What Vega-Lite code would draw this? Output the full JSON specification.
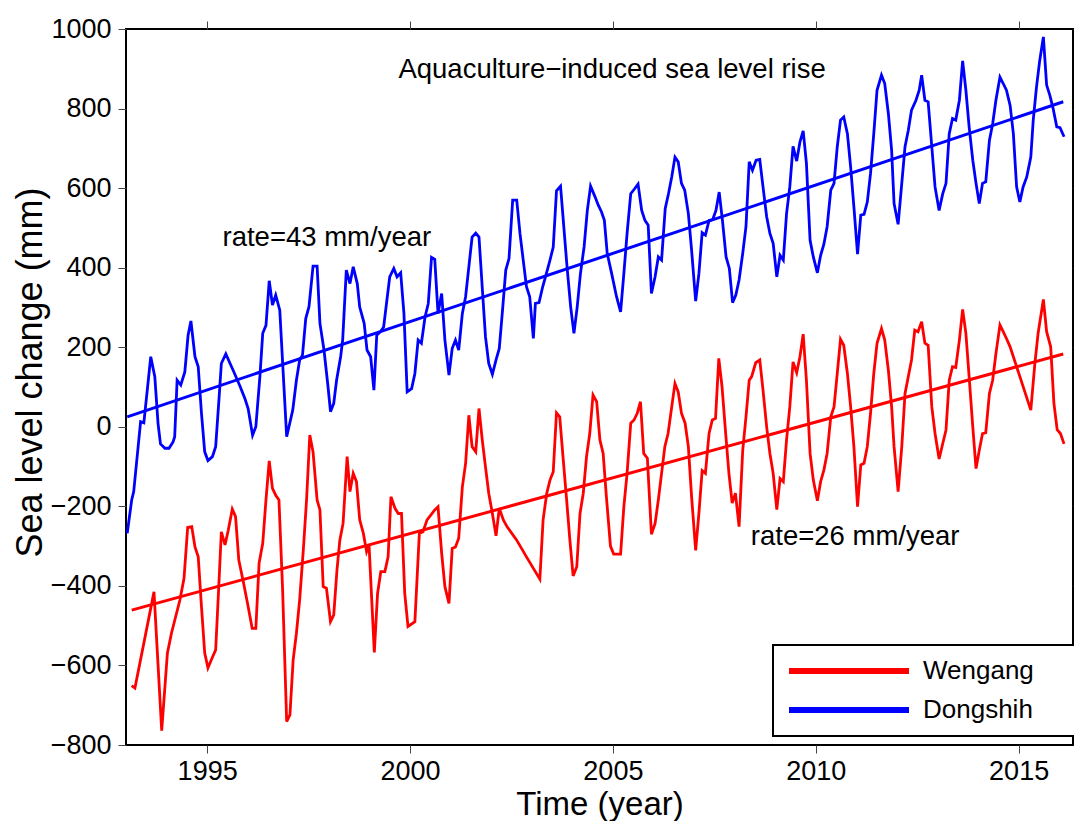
{
  "$schema": "https://vega.github.io/schema/vega-lite/v6.json",
  "width": 947,
  "height": 716,
  "autosize": {"type": "none"},
  "padding": {"left": 126, "top": 29, "right": 1, "bottom": 76},
  "background": "white",
  "config": {
    "font": "Liberation Sans",
    "view": {"stroke": "black", "strokeWidth": 2},
    "axis": {
      "domain": false,
      "grid": false,
      "tickColor": "#444",
      "tickWidth": 1,
      "tickSize": 8,
      "labelFont": "Liberation Sans",
      "labelFontSize": 27,
      "labelColor": "black",
      "titleFont": "Liberation Sans",
      "titleFontSize": 33,
      "titleFontWeight": "normal",
      "titleColor": "black"
    },
    "legend": {
      "labelFont": "Liberation Sans",
      "labelFontSize": 26,
      "labelColor": "black",
      "strokeWidth": 2
    }
  },
  "datasets": {
    "series": [
      {"s":"Wengang","t":1993.14,"v":-651},{"s":"Wengang","t":1993.22,"v":-657},{"s":"Wengang","t":1993.69,"v":-415},{"s":"Wengang","t":1993.88,"v":-764},{"s":"Wengang","t":1994.02,"v":-569},{"s":"Wengang","t":1994.12,"v":-519},{"s":"Wengang","t":1994.33,"v":-435},{"s":"Wengang","t":1994.43,"v":-381},{"s":"Wengang","t":1994.52,"v":-253},{"s":"Wengang","t":1994.62,"v":-251},{"s":"Wengang","t":1994.70,"v":-302},{"s":"Wengang","t":1994.78,"v":-327},{"s":"Wengang","t":1994.86,"v":-452},{"s":"Wengang","t":1994.94,"v":-569},{"s":"Wengang","t":1995.02,"v":-606},{"s":"Wengang","t":1995.12,"v":-582},{"s":"Wengang","t":1995.21,"v":-561},{"s":"Wengang","t":1995.29,"v":-394},{"s":"Wengang","t":1995.35,"v":-264},{"s":"Wengang","t":1995.44,"v":-297},{"s":"Wengang","t":1995.52,"v":-260},{"s":"Wengang","t":1995.62,"v":-207},{"s":"Wengang","t":1995.70,"v":-226},{"s":"Wengang","t":1995.78,"v":-335},{"s":"Wengang","t":1995.90,"v":-394},{"s":"Wengang","t":1996.01,"v":-452},{"s":"Wengang","t":1996.11,"v":-507},{"s":"Wengang","t":1996.20,"v":-507},{"s":"Wengang","t":1996.28,"v":-343},{"s":"Wengang","t":1996.37,"v":-293},{"s":"Wengang","t":1996.45,"v":-184},{"s":"Wengang","t":1996.53,"v":-86},{"s":"Wengang","t":1996.61,"v":-155},{"s":"Wengang","t":1996.69,"v":-172},{"s":"Wengang","t":1996.77,"v":-184},{"s":"Wengang","t":1996.86,"v":-410},{"s":"Wengang","t":1996.96,"v":-741},{"s":"Wengang","t":1997.04,"v":-724},{"s":"Wengang","t":1997.12,"v":-586},{"s":"Wengang","t":1997.20,"v":-519},{"s":"Wengang","t":1997.28,"v":-435},{"s":"Wengang","t":1997.37,"v":-310},{"s":"Wengang","t":1997.45,"v":-184},{"s":"Wengang","t":1997.53,"v":-21},{"s":"Wengang","t":1997.61,"v":-63},{"s":"Wengang","t":1997.71,"v":-184},{"s":"Wengang","t":1997.78,"v":-209},{"s":"Wengang","t":1997.86,"v":-402},{"s":"Wengang","t":1997.94,"v":-406},{"s":"Wengang","t":1998.04,"v":-490},{"s":"Wengang","t":1998.12,"v":-473},{"s":"Wengang","t":1998.20,"v":-360},{"s":"Wengang","t":1998.27,"v":-285},{"s":"Wengang","t":1998.35,"v":-243},{"s":"Wengang","t":1998.45,"v":-75},{"s":"Wengang","t":1998.52,"v":-163},{"s":"Wengang","t":1998.60,"v":-117},{"s":"Wengang","t":1998.68,"v":-138},{"s":"Wengang","t":1998.76,"v":-234},{"s":"Wengang","t":1998.85,"v":-268},{"s":"Wengang","t":1998.93,"v":-314},{"s":"Wengang","t":1998.99,"v":-297},{"s":"Wengang","t":1999.12,"v":-567},{"s":"Wengang","t":1999.20,"v":-419},{"s":"Wengang","t":1999.28,"v":-364},{"s":"Wengang","t":1999.38,"v":-364},{"s":"Wengang","t":1999.46,"v":-327},{"s":"Wengang","t":1999.53,"v":-176},{"s":"Wengang","t":1999.63,"v":-205},{"s":"Wengang","t":1999.71,"v":-218},{"s":"Wengang","t":1999.79,"v":-218},{"s":"Wengang","t":1999.87,"v":-419},{"s":"Wengang","t":1999.95,"v":-502},{"s":"Wengang","t":2000.12,"v":-490},{"s":"Wengang","t":2000.23,"v":-268},{"s":"Wengang","t":2000.32,"v":-264},{"s":"Wengang","t":2000.42,"v":-234},{"s":"Wengang","t":2000.61,"v":-209},{"s":"Wengang","t":2000.69,"v":-201},{"s":"Wengang","t":2000.78,"v":-318},{"s":"Wengang","t":2000.86,"v":-402},{"s":"Wengang","t":2000.96,"v":-444},{"s":"Wengang","t":2001.04,"v":-306},{"s":"Wengang","t":2001.12,"v":-302},{"s":"Wengang","t":2001.20,"v":-280},{"s":"Wengang","t":2001.29,"v":-151},{"s":"Wengang","t":2001.37,"v":-92},{"s":"Wengang","t":2001.45,"v":29},{"s":"Wengang","t":2001.53,"v":-50},{"s":"Wengang","t":2001.62,"v":-63},{"s":"Wengang","t":2001.70,"v":46},{"s":"Wengang","t":2001.78,"v":-33},{"s":"Wengang","t":2001.86,"v":-101},{"s":"Wengang","t":2001.94,"v":-167},{"s":"Wengang","t":2002.03,"v":-218},{"s":"Wengang","t":2002.12,"v":-274},{"s":"Wengang","t":2002.20,"v":-205},{"s":"Wengang","t":2002.30,"v":-234},{"s":"Wengang","t":2002.39,"v":-251},{"s":"Wengang","t":2002.63,"v":-285},{"s":"Wengang","t":2002.87,"v":-327},{"s":"Wengang","t":2003.20,"v":-383},{"s":"Wengang","t":2003.28,"v":-234},{"s":"Wengang","t":2003.37,"v":-167},{"s":"Wengang","t":2003.45,"v":-134},{"s":"Wengang","t":2003.53,"v":-113},{"s":"Wengang","t":2003.61,"v":35},{"s":"Wengang","t":2003.69,"v":25},{"s":"Wengang","t":2003.77,"v":-75},{"s":"Wengang","t":2003.86,"v":-184},{"s":"Wengang","t":2003.94,"v":-285},{"s":"Wengang","t":2004.02,"v":-375},{"s":"Wengang","t":2004.11,"v":-352},{"s":"Wengang","t":2004.19,"v":-218},{"s":"Wengang","t":2004.27,"v":-167},{"s":"Wengang","t":2004.35,"v":-75},{"s":"Wengang","t":2004.43,"v":-17},{"s":"Wengang","t":2004.51,"v":80},{"s":"Wengang","t":2004.60,"v":63},{"s":"Wengang","t":2004.68,"v":-33},{"s":"Wengang","t":2004.76,"v":-67},{"s":"Wengang","t":2004.84,"v":-176},{"s":"Wengang","t":2004.94,"v":-300},{"s":"Wengang","t":2005.02,"v":-320},{"s":"Wengang","t":2005.19,"v":-320},{"s":"Wengang","t":2005.27,"v":-201},{"s":"Wengang","t":2005.35,"v":-117},{"s":"Wengang","t":2005.44,"v":9},{"s":"Wengang","t":2005.52,"v":17},{"s":"Wengang","t":2005.60,"v":34},{"s":"Wengang","t":2005.68,"v":63},{"s":"Wengang","t":2005.76,"v":-67},{"s":"Wengang","t":2005.85,"v":-79},{"s":"Wengang","t":2005.95,"v":-270},{"s":"Wengang","t":2006.04,"v":-243},{"s":"Wengang","t":2006.12,"v":-184},{"s":"Wengang","t":2006.20,"v":-117},{"s":"Wengang","t":2006.28,"v":-50},{"s":"Wengang","t":2006.36,"v":-17},{"s":"Wengang","t":2006.45,"v":50},{"s":"Wengang","t":2006.53,"v":109},{"s":"Wengang","t":2006.61,"v":88},{"s":"Wengang","t":2006.69,"v":34},{"s":"Wengang","t":2006.78,"v":9},{"s":"Wengang","t":2006.86,"v":-50},{"s":"Wengang","t":2006.94,"v":-176},{"s":"Wengang","t":2007.04,"v":-311},{"s":"Wengang","t":2007.12,"v":-218},{"s":"Wengang","t":2007.20,"v":-110},{"s":"Wengang","t":2007.28,"v":-117},{"s":"Wengang","t":2007.37,"v":-17},{"s":"Wengang","t":2007.45,"v":17},{"s":"Wengang","t":2007.53,"v":21},{"s":"Wengang","t":2007.61,"v":172},{"s":"Wengang","t":2007.69,"v":101},{"s":"Wengang","t":2007.78,"v":-17},{"s":"Wengang","t":2007.86,"v":-117},{"s":"Wengang","t":2007.94,"v":-192},{"s":"Wengang","t":2008.02,"v":-167},{"s":"Wengang","t":2008.11,"v":-251},{"s":"Wengang","t":2008.20,"v":-59},{"s":"Wengang","t":2008.28,"v":25},{"s":"Wengang","t":2008.36,"v":117},{"s":"Wengang","t":2008.42,"v":126},{"s":"Wengang","t":2008.52,"v":161},{"s":"Wengang","t":2008.62,"v":168},{"s":"Wengang","t":2008.70,"v":92},{"s":"Wengang","t":2008.79,"v":0},{"s":"Wengang","t":2008.87,"v":-67},{"s":"Wengang","t":2008.95,"v":-117},{"s":"Wengang","t":2009.04,"v":-208},{"s":"Wengang","t":2009.12,"v":-130},{"s":"Wengang","t":2009.20,"v":-138},{"s":"Wengang","t":2009.28,"v":-33},{"s":"Wengang","t":2009.36,"v":50},{"s":"Wengang","t":2009.44,"v":163},{"s":"Wengang","t":2009.53,"v":136},{"s":"Wengang","t":2009.61,"v":176},{"s":"Wengang","t":2009.69,"v":233},{"s":"Wengang","t":2009.77,"v":117},{"s":"Wengang","t":2009.86,"v":-67},{"s":"Wengang","t":2009.94,"v":-134},{"s":"Wengang","t":2010.04,"v":-186},{"s":"Wengang","t":2010.12,"v":-138},{"s":"Wengang","t":2010.20,"v":-109},{"s":"Wengang","t":2010.28,"v":-67},{"s":"Wengang","t":2010.37,"v":25},{"s":"Wengang","t":2010.45,"v":50},{"s":"Wengang","t":2010.53,"v":134},{"s":"Wengang","t":2010.61,"v":220},{"s":"Wengang","t":2010.69,"v":205},{"s":"Wengang","t":2010.78,"v":134},{"s":"Wengang","t":2010.86,"v":50},{"s":"Wengang","t":2010.94,"v":-50},{"s":"Wengang","t":2011.03,"v":-201},{"s":"Wengang","t":2011.11,"v":-96},{"s":"Wengang","t":2011.19,"v":-92},{"s":"Wengang","t":2011.27,"v":-50},{"s":"Wengang","t":2011.35,"v":34},{"s":"Wengang","t":2011.43,"v":134},{"s":"Wengang","t":2011.51,"v":210},{"s":"Wengang","t":2011.62,"v":247},{"s":"Wengang","t":2011.70,"v":218},{"s":"Wengang","t":2011.79,"v":142},{"s":"Wengang","t":2011.87,"v":50},{"s":"Wengang","t":2011.93,"v":-50},{"s":"Wengang","t":2012.03,"v":-163},{"s":"Wengang","t":2012.12,"v":-50},{"s":"Wengang","t":2012.20,"v":84},{"s":"Wengang","t":2012.28,"v":126},{"s":"Wengang","t":2012.36,"v":168},{"s":"Wengang","t":2012.44,"v":243},{"s":"Wengang","t":2012.52,"v":239},{"s":"Wengang","t":2012.61,"v":264},{"s":"Wengang","t":2012.69,"v":210},{"s":"Wengang","t":2012.77,"v":205},{"s":"Wengang","t":2012.86,"v":50},{"s":"Wengang","t":2012.94,"v":-17},{"s":"Wengang","t":2013.04,"v":-81},{"s":"Wengang","t":2013.13,"v":-42},{"s":"Wengang","t":2013.21,"v":-8},{"s":"Wengang","t":2013.29,"v":117},{"s":"Wengang","t":2013.37,"v":151},{"s":"Wengang","t":2013.45,"v":149},{"s":"Wengang","t":2013.54,"v":218},{"s":"Wengang","t":2013.62,"v":295},{"s":"Wengang","t":2013.70,"v":235},{"s":"Wengang","t":2013.78,"v":126},{"s":"Wengang","t":2013.87,"v":0},{"s":"Wengang","t":2013.95,"v":-105},{"s":"Wengang","t":2014.03,"v":-59},{"s":"Wengang","t":2014.11,"v":-17},{"s":"Wengang","t":2014.19,"v":-15},{"s":"Wengang","t":2014.28,"v":84},{"s":"Wengang","t":2014.36,"v":117},{"s":"Wengang","t":2014.44,"v":184},{"s":"Wengang","t":2014.54,"v":256},{"s":"Wengang","t":2014.62,"v":239},{"s":"Wengang","t":2014.70,"v":222},{"s":"Wengang","t":2014.79,"v":201},{"s":"Wengang","t":2014.87,"v":176},{"s":"Wengang","t":2015.30,"v":42},{"s":"Wengang","t":2015.40,"v":159},{"s":"Wengang","t":2015.48,"v":235},{"s":"Wengang","t":2015.61,"v":320},{"s":"Wengang","t":2015.69,"v":239},{"s":"Wengang","t":2015.79,"v":201},{"s":"Wengang","t":2015.87,"v":59},{"s":"Wengang","t":2015.95,"v":-7},{"s":"Wengang","t":2016.03,"v":-17},{"s":"Wengang","t":2016.12,"v":-43},
      {"s":"Dongshih","t":1993.03,"v":-268},{"s":"Dongshih","t":1993.14,"v":-184},{"s":"Dongshih","t":1993.19,"v":-163},{"s":"Dongshih","t":1993.36,"v":13},{"s":"Dongshih","t":1993.44,"v":10},{"s":"Dongshih","t":1993.61,"v":176},{"s":"Dongshih","t":1993.71,"v":126},{"s":"Dongshih","t":1993.79,"v":8},{"s":"Dongshih","t":1993.85,"v":-43},{"s":"Dongshih","t":1993.96,"v":-54},{"s":"Dongshih","t":1994.06,"v":-54},{"s":"Dongshih","t":1994.16,"v":-38},{"s":"Dongshih","t":1994.20,"v":-25},{"s":"Dongshih","t":1994.26,"v":117},{"s":"Dongshih","t":1994.35,"v":105},{"s":"Dongshih","t":1994.45,"v":138},{"s":"Dongshih","t":1994.53,"v":230},{"s":"Dongshih","t":1994.60,"v":266},{"s":"Dongshih","t":1994.70,"v":176},{"s":"Dongshih","t":1994.78,"v":151},{"s":"Dongshih","t":1994.86,"v":34},{"s":"Dongshih","t":1994.94,"v":-63},{"s":"Dongshih","t":1995.02,"v":-85},{"s":"Dongshih","t":1995.13,"v":-75},{"s":"Dongshih","t":1995.21,"v":-50},{"s":"Dongshih","t":1995.29,"v":67},{"s":"Dongshih","t":1995.35,"v":159},{"s":"Dongshih","t":1995.46,"v":183},{"s":"Dongshih","t":1995.64,"v":142},{"s":"Dongshih","t":1995.81,"v":102},{"s":"Dongshih","t":1995.93,"v":71},{"s":"Dongshih","t":1996.01,"v":46},{"s":"Dongshih","t":1996.12,"v":-21},{"s":"Dongshih","t":1996.20,"v":0},{"s":"Dongshih","t":1996.30,"v":126},{"s":"Dongshih","t":1996.37,"v":235},{"s":"Dongshih","t":1996.45,"v":255},{"s":"Dongshih","t":1996.53,"v":367},{"s":"Dongshih","t":1996.61,"v":306},{"s":"Dongshih","t":1996.69,"v":331},{"s":"Dongshih","t":1996.79,"v":293},{"s":"Dongshih","t":1996.96,"v":-25},{"s":"Dongshih","t":1997.11,"v":42},{"s":"Dongshih","t":1997.20,"v":117},{"s":"Dongshih","t":1997.28,"v":168},{"s":"Dongshih","t":1997.35,"v":180},{"s":"Dongshih","t":1997.43,"v":272},{"s":"Dongshih","t":1997.51,"v":302},{"s":"Dongshih","t":1997.61,"v":404},{"s":"Dongshih","t":1997.71,"v":404},{"s":"Dongshih","t":1997.78,"v":260},{"s":"Dongshih","t":1997.88,"v":193},{"s":"Dongshih","t":1997.98,"v":100},{"s":"Dongshih","t":1998.04,"v":38},{"s":"Dongshih","t":1998.12,"v":59},{"s":"Dongshih","t":1998.19,"v":117},{"s":"Dongshih","t":1998.29,"v":176},{"s":"Dongshih","t":1998.34,"v":218},{"s":"Dongshih","t":1998.43,"v":394},{"s":"Dongshih","t":1998.52,"v":360},{"s":"Dongshih","t":1998.60,"v":402},{"s":"Dongshih","t":1998.70,"v":360},{"s":"Dongshih","t":1998.76,"v":301},{"s":"Dongshih","t":1998.87,"v":260},{"s":"Dongshih","t":1998.94,"v":193},{"s":"Dongshih","t":1999.03,"v":176},{"s":"Dongshih","t":1999.11,"v":92},{"s":"Dongshih","t":1999.18,"v":230},{"s":"Dongshih","t":1999.27,"v":239},{"s":"Dongshih","t":1999.35,"v":251},{"s":"Dongshih","t":1999.42,"v":310},{"s":"Dongshih","t":1999.50,"v":377},{"s":"Dongshih","t":1999.60,"v":398},{"s":"Dongshih","t":1999.68,"v":377},{"s":"Dongshih","t":1999.77,"v":387},{"s":"Dongshih","t":1999.85,"v":285},{"s":"Dongshih","t":1999.93,"v":88},{"s":"Dongshih","t":2000.04,"v":96},{"s":"Dongshih","t":2000.12,"v":134},{"s":"Dongshih","t":2000.20,"v":218},{"s":"Dongshih","t":2000.28,"v":210},{"s":"Dongshih","t":2000.37,"v":276},{"s":"Dongshih","t":2000.45,"v":310},{"s":"Dongshih","t":2000.53,"v":426},{"s":"Dongshih","t":2000.61,"v":421},{"s":"Dongshih","t":2000.69,"v":285},{"s":"Dongshih","t":2000.78,"v":335},{"s":"Dongshih","t":2000.86,"v":218},{"s":"Dongshih","t":2000.96,"v":130},{"s":"Dongshih","t":2001.04,"v":197},{"s":"Dongshih","t":2001.12,"v":218},{"s":"Dongshih","t":2001.20,"v":193},{"s":"Dongshih","t":2001.29,"v":285},{"s":"Dongshih","t":2001.37,"v":327},{"s":"Dongshih","t":2001.45,"v":402},{"s":"Dongshih","t":2001.53,"v":477},{"s":"Dongshih","t":2001.62,"v":487},{"s":"Dongshih","t":2001.70,"v":477},{"s":"Dongshih","t":2001.79,"v":335},{"s":"Dongshih","t":2001.86,"v":226},{"s":"Dongshih","t":2001.94,"v":159},{"s":"Dongshih","t":2002.03,"v":132},{"s":"Dongshih","t":2002.12,"v":168},{"s":"Dongshih","t":2002.20,"v":197},{"s":"Dongshih","t":2002.28,"v":293},{"s":"Dongshih","t":2002.36,"v":394},{"s":"Dongshih","t":2002.44,"v":423},{"s":"Dongshih","t":2002.53,"v":570},{"s":"Dongshih","t":2002.63,"v":570},{"s":"Dongshih","t":2002.71,"v":486},{"s":"Dongshih","t":2002.79,"v":419},{"s":"Dongshih","t":2002.87,"v":352},{"s":"Dongshih","t":2002.95,"v":327},{"s":"Dongshih","t":2003.04,"v":222},{"s":"Dongshih","t":2003.09,"v":310},{"s":"Dongshih","t":2003.18,"v":312},{"s":"Dongshih","t":2003.27,"v":352},{"s":"Dongshih","t":2003.35,"v":381},{"s":"Dongshih","t":2003.45,"v":419},{"s":"Dongshih","t":2003.53,"v":452},{"s":"Dongshih","t":2003.61,"v":593},{"s":"Dongshih","t":2003.71,"v":605},{"s":"Dongshih","t":2003.79,"v":503},{"s":"Dongshih","t":2003.87,"v":402},{"s":"Dongshih","t":2003.96,"v":301},{"s":"Dongshih","t":2004.04,"v":235},{"s":"Dongshih","t":2004.12,"v":301},{"s":"Dongshih","t":2004.20,"v":385},{"s":"Dongshih","t":2004.29,"v":452},{"s":"Dongshih","t":2004.37,"v":544},{"s":"Dongshih","t":2004.45,"v":605},{"s":"Dongshih","t":2004.56,"v":578},{"s":"Dongshih","t":2004.64,"v":557},{"s":"Dongshih","t":2004.72,"v":540},{"s":"Dongshih","t":2004.79,"v":519},{"s":"Dongshih","t":2004.86,"v":436},{"s":"Dongshih","t":2004.97,"v":385},{"s":"Dongshih","t":2005.09,"v":327},{"s":"Dongshih","t":2005.19,"v":289},{"s":"Dongshih","t":2005.27,"v":385},{"s":"Dongshih","t":2005.35,"v":486},{"s":"Dongshih","t":2005.44,"v":586},{"s":"Dongshih","t":2005.54,"v":599},{"s":"Dongshih","t":2005.62,"v":610},{"s":"Dongshih","t":2005.71,"v":544},{"s":"Dongshih","t":2005.79,"v":519},{"s":"Dongshih","t":2005.87,"v":507},{"s":"Dongshih","t":2005.95,"v":335},{"s":"Dongshih","t":2006.04,"v":377},{"s":"Dongshih","t":2006.12,"v":427},{"s":"Dongshih","t":2006.20,"v":419},{"s":"Dongshih","t":2006.29,"v":549},{"s":"Dongshih","t":2006.37,"v":586},{"s":"Dongshih","t":2006.45,"v":628},{"s":"Dongshih","t":2006.53,"v":678},{"s":"Dongshih","t":2006.61,"v":666},{"s":"Dongshih","t":2006.69,"v":612},{"s":"Dongshih","t":2006.77,"v":595},{"s":"Dongshih","t":2006.86,"v":536},{"s":"Dongshih","t":2006.94,"v":444},{"s":"Dongshih","t":2007.04,"v":316},{"s":"Dongshih","t":2007.12,"v":385},{"s":"Dongshih","t":2007.20,"v":488},{"s":"Dongshih","t":2007.28,"v":482},{"s":"Dongshih","t":2007.37,"v":519},{"s":"Dongshih","t":2007.46,"v":521},{"s":"Dongshih","t":2007.54,"v":544},{"s":"Dongshih","t":2007.62,"v":590},{"s":"Dongshih","t":2007.70,"v":519},{"s":"Dongshih","t":2007.79,"v":427},{"s":"Dongshih","t":2007.87,"v":398},{"s":"Dongshih","t":2007.95,"v":312},{"s":"Dongshih","t":2008.03,"v":331},{"s":"Dongshih","t":2008.11,"v":369},{"s":"Dongshih","t":2008.20,"v":436},{"s":"Dongshih","t":2008.28,"v":503},{"s":"Dongshih","t":2008.36,"v":666},{"s":"Dongshih","t":2008.44,"v":645},{"s":"Dongshih","t":2008.53,"v":670},{"s":"Dongshih","t":2008.62,"v":672},{"s":"Dongshih","t":2008.70,"v":603},{"s":"Dongshih","t":2008.79,"v":528},{"s":"Dongshih","t":2008.87,"v":486},{"s":"Dongshih","t":2008.95,"v":461},{"s":"Dongshih","t":2009.04,"v":377},{"s":"Dongshih","t":2009.12,"v":431},{"s":"Dongshih","t":2009.20,"v":419},{"s":"Dongshih","t":2009.28,"v":536},{"s":"Dongshih","t":2009.36,"v":603},{"s":"Dongshih","t":2009.44,"v":705},{"s":"Dongshih","t":2009.53,"v":668},{"s":"Dongshih","t":2009.61,"v":716},{"s":"Dongshih","t":2009.69,"v":744},{"s":"Dongshih","t":2009.77,"v":662},{"s":"Dongshih","t":2009.86,"v":469},{"s":"Dongshih","t":2009.94,"v":427},{"s":"Dongshih","t":2010.04,"v":387},{"s":"Dongshih","t":2010.12,"v":431},{"s":"Dongshih","t":2010.20,"v":459},{"s":"Dongshih","t":2010.28,"v":503},{"s":"Dongshih","t":2010.37,"v":595},{"s":"Dongshih","t":2010.45,"v":612},{"s":"Dongshih","t":2010.53,"v":704},{"s":"Dongshih","t":2010.61,"v":771},{"s":"Dongshih","t":2010.69,"v":779},{"s":"Dongshih","t":2010.78,"v":737},{"s":"Dongshih","t":2010.86,"v":653},{"s":"Dongshih","t":2010.94,"v":553},{"s":"Dongshih","t":2011.03,"v":434},{"s":"Dongshih","t":2011.11,"v":532},{"s":"Dongshih","t":2011.19,"v":534},{"s":"Dongshih","t":2011.27,"v":565},{"s":"Dongshih","t":2011.35,"v":637},{"s":"Dongshih","t":2011.43,"v":737},{"s":"Dongshih","t":2011.51,"v":846},{"s":"Dongshih","t":2011.62,"v":884},{"s":"Dongshih","t":2011.70,"v":863},{"s":"Dongshih","t":2011.79,"v":787},{"s":"Dongshih","t":2011.87,"v":695},{"s":"Dongshih","t":2011.93,"v":561},{"s":"Dongshih","t":2012.03,"v":509},{"s":"Dongshih","t":2012.12,"v":612},{"s":"Dongshih","t":2012.20,"v":704},{"s":"Dongshih","t":2012.28,"v":745},{"s":"Dongshih","t":2012.36,"v":796},{"s":"Dongshih","t":2012.47,"v":821},{"s":"Dongshih","t":2012.55,"v":846},{"s":"Dongshih","t":2012.61,"v":884},{"s":"Dongshih","t":2012.69,"v":821},{"s":"Dongshih","t":2012.77,"v":817},{"s":"Dongshih","t":2012.86,"v":704},{"s":"Dongshih","t":2012.94,"v":603},{"s":"Dongshih","t":2013.04,"v":544},{"s":"Dongshih","t":2013.13,"v":586},{"s":"Dongshih","t":2013.21,"v":612},{"s":"Dongshih","t":2013.29,"v":737},{"s":"Dongshih","t":2013.37,"v":775},{"s":"Dongshih","t":2013.45,"v":771},{"s":"Dongshih","t":2013.54,"v":821},{"s":"Dongshih","t":2013.62,"v":920},{"s":"Dongshih","t":2013.70,"v":846},{"s":"Dongshih","t":2013.78,"v":754},{"s":"Dongshih","t":2013.87,"v":670},{"s":"Dongshih","t":2013.95,"v":612},{"s":"Dongshih","t":2014.03,"v":561},{"s":"Dongshih","t":2014.11,"v":612},{"s":"Dongshih","t":2014.19,"v":616},{"s":"Dongshih","t":2014.28,"v":720},{"s":"Dongshih","t":2014.36,"v":762},{"s":"Dongshih","t":2014.44,"v":821},{"s":"Dongshih","t":2014.54,"v":879},{"s":"Dongshih","t":2014.62,"v":863},{"s":"Dongshih","t":2014.70,"v":846},{"s":"Dongshih","t":2014.79,"v":808},{"s":"Dongshih","t":2014.87,"v":737},{"s":"Dongshih","t":2014.95,"v":603},{"s":"Dongshih","t":2015.03,"v":565},{"s":"Dongshih","t":2015.11,"v":603},{"s":"Dongshih","t":2015.20,"v":628},{"s":"Dongshih","t":2015.30,"v":678},{"s":"Dongshih","t":2015.36,"v":771},{"s":"Dongshih","t":2015.44,"v":854},{"s":"Dongshih","t":2015.52,"v":921},{"s":"Dongshih","t":2015.61,"v":980},{"s":"Dongshih","t":2015.69,"v":859},{"s":"Dongshih","t":2015.77,"v":833},{"s":"Dongshih","t":2015.85,"v":800},{"s":"Dongshih","t":2015.94,"v":754},{"s":"Dongshih","t":2016.02,"v":752},{"s":"Dongshih","t":2016.12,"v":729}
    ],
    "trend": [
      {"s":"Wengang","t":1993.14,"v":-461},{"s":"Wengang","t":2016.10,"v":183},
      {"s":"Dongshih","t":1993.03,"v":25},{"s":"Dongshih","t":2016.10,"v":817}
    ],
    "notes": [
      {"t":2004.98,"v":896,"label":"Aquaculture−induced sea level rise"},
      {"t":1997.95,"v":474,"label":"rate=43 mm/year"},
      {"t":2010.97,"v":-276,"label":"rate=26 mm/year"}
    ]
  },
  "layer": [
    {
      "data": {"name": "series"},
      "mark": {"type": "line", "strokeWidth": 2.8, "clip": true},
      "encoding": {
        "x": {"field": "t", "type": "quantitative", "scale": {"domain": [1993.0, 2016.34], "nice": false, "zero": false},
              "axis": {"orient": "bottom", "values": [1995, 2000, 2005, 2010, 2015], "format": "d", "title": "Time (year)", "labelPadding": 5, "titlePadding": 4}},
        "y": {"field": "v", "type": "quantitative", "scale": {"domain": [-800, 1000], "nice": false, "zero": false},
              "axis": {"orient": "left", "values": [-800, -600, -400, -200, 0, 200, 400, 600, 800, 1000], "format": "d", "title": "Sea level change (mm)", "labelPadding": 7, "titleX": -96, "titleY": 343, "titleAngle": -90, "titleAlign": "center", "titleBaseline": "middle", "titleFontSize": 36}},
        "color": {"field": "s", "type": "nominal",
                  "scale": {"domain": ["Wengang", "Dongshih"], "range": ["#ff0000", "#0000ff"]},
                  "legend": {"title": null, "orient": "none", "legendX": 647, "legendY": 616, "symbolType": "M-1,0H11M26,0", "symbolSize": 400, "symbolStrokeWidth": 6, "labelOffset": 111, "rowPadding": 13, "padding": 13, "strokeColor": "black", "fillColor": "white", "labelFontSize": 26}},
        "detail": {"field": "s"}
      }
    },
    {
      "data": {"name": "trend"},
      "mark": {"type": "line", "strokeWidth": 3, "clip": true},
      "encoding": {
        "x": {"field": "t", "type": "quantitative", "axis": {"orient": "top", "values": [1995, 2000, 2005, 2010, 2015], "labels": false, "title": null}},
        "y": {"field": "v", "type": "quantitative", "axis": {"orient": "right", "values": [-800, -600, -400, -200, 0, 200, 400, 600, 800, 1000], "labels": false, "title": null}},
        "color": {"field": "s", "type": "nominal",
                  "legend": {"title": null, "orient": "none", "legendX": 647, "legendY": 616, "symbolType": "M-1,0H11M26,0", "symbolSize": 400, "symbolStrokeWidth": 6, "labelOffset": 111, "rowPadding": 13, "padding": 13, "strokeColor": "black", "fillColor": "white", "labelFontSize": 26}}
      }
    },
    {
      "data": {"name": "notes"},
      "mark": {"type": "text", "fontSize": 27.5, "font": "Liberation Sans", "baseline": "middle", "align": "center", "color": "black"},
      "encoding": {
        "x": {"field": "t", "type": "quantitative", "axis": null},
        "y": {"field": "v", "type": "quantitative", "axis": null},
        "text": {"field": "label"}
      }
    }
  ],
  "resolve": {"axis": {"x": "independent", "y": "independent"}}
}
